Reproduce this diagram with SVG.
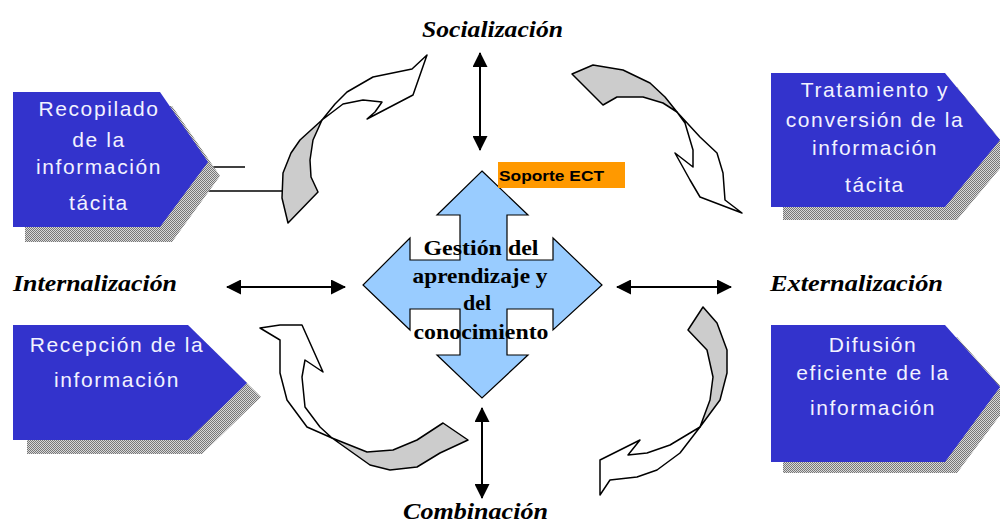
<svg xmlns="http://www.w3.org/2000/svg" width="1000" height="524" viewBox="0 0 1000 524">
<defs>
<pattern id="dither" width="2" height="2" patternUnits="userSpaceOnUse">
<rect width="2" height="2" fill="#d8d8d8"/>
<rect width="1" height="1" fill="#777"/>
<rect x="1" y="1" width="1" height="1" fill="#777"/>
</pattern>
<marker id="ah" markerWidth="15" markerHeight="15" refX="14" refY="7.5" orient="auto-start-reverse" markerUnits="userSpaceOnUse">
<path d="M0,0 L15,7.5 L0,15 Z" fill="#000"/>
</marker>
<style>
.box{fill:#3333cc;}
.shadow{fill:url(#dither);}
.bt{font-family:"Liberation Sans",Arial,sans-serif;font-size:21px;fill:#f2f2ff;text-anchor:middle;letter-spacing:1.6px;}
.lab{font-family:"Liberation Serif","Times New Roman",serif;font-size:24px;font-weight:bold;font-style:italic;fill:#000;}
.ct{font-family:"Liberation Serif","Times New Roman",serif;font-size:22px;font-weight:bold;fill:#000;text-anchor:middle;}
.dbl{stroke:#000;stroke-width:2;fill:none;marker-start:url(#ah);marker-end:url(#ah);}
.gray{fill:#cccccc;stroke:#000;stroke-width:1.5;stroke-linejoin:round;}
.white{fill:#fff;stroke:#000;stroke-width:1.5;stroke-linejoin:round;}
.ln{stroke:#000;stroke-width:1.5;fill:none;}
</style>
</defs>
<rect width="1000" height="524" fill="#fff"/>

<g id="connectors">
<line class="ln" x1="205" y1="167" x2="245" y2="167"/>
<line class="ln" x1="185" y1="191" x2="282" y2="191"/>
<path class="dbl" d="M480,53 L480,150"/>
<path class="dbl" d="M482,408 L482,498"/>
<path class="dbl" d="M227,287 L345,287"/>
<path class="dbl" d="M617,287 L731,287"/>
<!-- top-left curved arrow -->
<path class="gray" d="M288,223 L282,198 L283,173 L291,153 L300,140 L322,120 L313,140 L310,160 L311,177 L318,192 Z"/>
<path class="white" d="M322,120 L335,104 L347,92 L373,77 L412,69 L427,55 L413,95 L367,119 L375,112 L382,102 L363,100 L343,104 Z"/>
<!-- top-right curved arrow -->
<path class="gray" d="M572,74 L593,65 L623,70 L650,83 L665,97 L677,112 L663,103 L643,97 L617,97 L603,105 Z"/>
<path class="white" d="M677,112 L700,137 L717,153 L723,173 L725,200 L742,213 L700,197 L690,180 L675,153 L693,167 L693,150 L685,123 Z"/>
<!-- bottom-right curved arrow -->
<path class="gray" d="M703,307 L717,323 L727,350 L727,373 L720,400 L700,427 L710,400 L713,377 L707,350 L688,330 Z"/>
<path class="white" d="M700,427 L680,453 L657,470 L637,477 L610,480 L600,495 L600,460 L640,440 L628,455 L647,453 L670,445 L690,433 Z"/>
<!-- bottom-left curved arrow -->
<path class="gray" d="M443,423 L468,440 L440,453 L417,467 L390,470 L370,465 L332,438 L367,452 L393,450 L417,440 Z"/>
<path class="white" d="M332,438 L307,427 L287,400 L280,373 L280,340 L260,328 L280,325 L302,325 L323,372 L305,360 L302,377 L305,407 L320,427 Z"/>
</g>

<g id="node-recopilado">
<polygon class="shadow" points="25,106 172,106 220,176 172,242 25,242"/>
<polygon class="box" points="13,92 160,92 208,162 160,227 13,227"/>
<text class="bt" x="99" y="116">Recopilado</text>
<text class="bt" x="99" y="147">de la</text>
<text class="bt" x="99" y="174">información</text>
<text class="bt" x="99" y="210">tácita</text>
</g>

<g id="node-tratamiento">
<polygon class="shadow" points="783,87 957,87 1012,154 957,220 783,220"/>
<polygon class="box" points="771,73 945,73 1000,140 945,207 771,207"/>
<text class="bt" x="875" y="97">Tratamiento y</text>
<text class="bt" x="875" y="127">conversión de la</text>
<text class="bt" x="875" y="155">información</text>
<text class="bt" x="875" y="192">tácita</text>
</g>

<g id="node-recepcion">
<polygon class="shadow" points="27,339 202,339 261,397 202,454 27,454"/>
<polygon class="box" points="13,325 188,325 247,383 188,440 13,440"/>
<text class="bt" x="117" y="352">Recepción de la</text>
<text class="bt" x="117" y="387">información</text>
</g>

<g id="node-difusion">
<polygon class="shadow" points="783,337 957,337 1012,399 957,473 783,473"/>
<polygon class="box" points="771,325 945,325 1000,387 945,462 771,462"/>
<text class="bt" x="873" y="352">Difusión</text>
<text class="bt" x="873" y="380">eficiente de la</text>
<text class="bt" x="873" y="415">información</text>
</g>

<g id="node-gestion">
<polygon fill="#99ccff" stroke="#000" stroke-width="1.2" stroke-linejoin="miter" points="482,171 528,215 507,215 507,260 553,260 553,238 602,285 553,330 553,309 507,309 507,355 528,355 482,398 437,355 460,355 460,309 410,309 410,330 363,285 410,238 410,260 460,260 460,215 437,215"/>
<text class="ct" x="481" y="255" textLength="115" lengthAdjust="spacingAndGlyphs">Gestión del</text>
<text class="ct" x="480" y="283" textLength="135" lengthAdjust="spacingAndGlyphs">aprendizaje y</text>
<text class="ct" x="477" y="310">del</text>
<text class="ct" x="481" y="339" textLength="135" lengthAdjust="spacingAndGlyphs">conocimiento</text>
</g>

<g id="node-soporte">
<rect x="498" y="162" width="127" height="26" fill="#ff9900"/>
<text x="499" y="181" font-family="'Liberation Sans',Arial,sans-serif" font-size="15" font-weight="bold" fill="#000" textLength="105" lengthAdjust="spacingAndGlyphs">Soporte ECT</text>
</g>

<g id="node-socializacion"><text class="lab" x="422" y="37" textLength="141" lengthAdjust="spacingAndGlyphs">Socialización</text></g>
<g id="node-internalizacion"><text class="lab" x="13" y="291" textLength="164" lengthAdjust="spacingAndGlyphs">Internalización</text></g>
<g id="node-externalizacion"><text class="lab" x="770" y="291" textLength="173" lengthAdjust="spacingAndGlyphs">Externalización</text></g>
<g id="node-combinacion"><text class="lab" x="403" y="519" textLength="145" lengthAdjust="spacingAndGlyphs">Combinación</text></g>
</svg>
